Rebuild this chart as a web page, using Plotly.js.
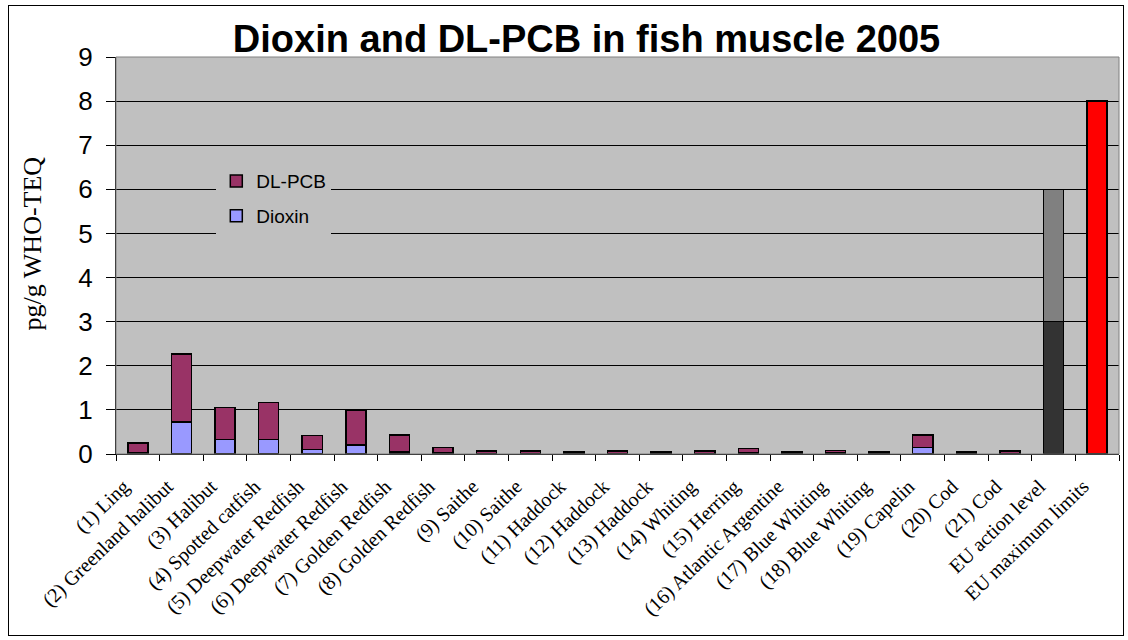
<!DOCTYPE html>
<html>
<head>
<meta charset="utf-8">
<script src="https://cdn.plot.ly/plotly-3.0.1.min.js"></script>
<style>
  html, body { margin: 0; padding: 0; background: #ffffff; }
  #wrap { position: relative; width: 1128px; height: 640px; }
  #chart { width: 1128px; height: 640px; }
  #frame { position: absolute; left: 8px; top: 5px; width: 1114px; height: 629px;
           border: 1px solid #000; pointer-events: none; }
</style>
</head>
<body>
<div id="wrap">
  <div id="chart"></div>
  <div id="frame"></div>
</div>
<script>
// Sampled species and the two EU reference levels
const categories = [
  "(1) Ling", "(2) Greenland halibut", "(3) Halibut", "(4) Spotted catfish",
  "(5) Deepwater Redfish", "(6) Deepwater Redfish", "(7) Golden Redfish",
  "(8) Golden Redfish", "(9) Saithe", "(10) Saithe", "(11) Haddock",
  "(12) Haddock", "(13) Haddock", "(14) Whiting", "(15) Herring",
  "(16) Atlantic Argentine", "(17) Blue Whiting", "(18) Blue Whiting",
  "(19) Capelin", "(20) Cod", "(21) Cod", "EU action level", "EU maximum limits"
];

// pg/g WHO-TEQ, lower stack segment
const dioxin = [
  0.03, 0.73, 0.33, 0.33, 0.10, 0.20, 0.05, 0.03, 0.01, 0.01, 0.01,
  0.01, 0.01, 0.01, 0.03, 0.01, 0.02, 0.01, 0.15, 0.01, 0.01, 3, 8
];

// pg/g WHO-TEQ, upper stack segment
const dlpcb = [
  0.22, 1.54, 0.72, 0.84, 0.32, 0.80, 0.38, 0.12, 0.06, 0.06, 0.03,
  0.06, 0.03, 0.06, 0.09, 0.03, 0.06, 0.03, 0.28, 0.03, 0.06, 3, 0
];

const yAxisTitle = "pg/g WHO-TEQ";

const dioxinColors = categories.map(c =>
  c === "EU action level" ? "#333333" : c === "EU maximum limits" ? "#FF0000" : "#9999FF");
const pcbColors = categories.map(c =>
  c === "EU action level" ? "#808080" : "#993366");

const outline = { color: "#000000", width: 1.5 };

const traces = [
  {
    type: "bar", name: "Dioxin", x: categories, y: dioxin,
    legendgroup: "dioxin", legendrank: 2,
    marker: { color: dioxinColors, line: outline },
    hoverinfo: "x+y+name"
  },
  {
    type: "bar", name: "DL-PCB", x: categories, y: dlpcb,
    legendgroup: "pcb", legendrank: 1,
    marker: { color: pcbColors, line: outline },
    hoverinfo: "x+y+name"
  }
];

const layout = {
  width: 1128, height: 640,
  margin: { l: 116, r: 9, t: 57, b: 186 },
  paper_bgcolor: "#ffffff",
  plot_bgcolor: "#C0C0C0",
  barmode: "stack",
  bargap: 0.54,
  showlegend: true,
  title: {
    text: "<b>Dioxin and DL-PCB in fish muscle 2005</b>",
    font: { family: "Liberation Sans, Arial, sans-serif", size: 38, color: "#000" },
    x: 0.52, xanchor: "center", y: 0.94, yanchor: "middle"
  },
  legend: {
    x: 0.1, y: 0.735, xanchor: "left", yanchor: "top",
    bgcolor: "#C0C0C0", borderwidth: 0,
    traceorder: "grouped", tracegroupgap: 7,
    font: { family: "Liberation Sans, Arial, sans-serif", size: 19, color: "#000" },
    itemwidth: 30
  },
  xaxis: {
    type: "category",
    tickangle: -44,
    tickfont: { family: "Liberation Serif, Times New Roman, serif", size: 20, color: "#000" },
    ticks: "outside", tickson: "boundaries", ticklen: 6, tickcolor: "#000",
    ticklabelstandoff: 12, ticklabelshift: -14,
    showline: true, linecolor: "#000", linewidth: 1,
    showgrid: false, zeroline: false, automargin: false,
    range: [-0.5, categories.length - 0.5]
  },
  yaxis: {
    range: [0, 9], dtick: 1,
    tickfont: { family: "Liberation Sans, Arial, sans-serif", size: 26, color: "#000" },
    ticks: "outside", ticklen: 9, tickcolor: "#000",
    ticklabelstandoff: 8,
    showline: true, linecolor: "#000", linewidth: 1,
    showgrid: true, gridcolor: "#000", gridwidth: 1,
    zeroline: false, automargin: false
  },
  annotations: [
    { text: yAxisTitle, textangle: -90, showarrow: false,
      xref: "paper", yref: "paper", x: -0.0835, y: 0.531,
      xanchor: "center", yanchor: "middle",
      font: { family: "Liberation Serif, Times New Roman, serif", size: 26, color: "#000" } }
  ],
  shapes: [
    { type: "rect", xref: "paper", yref: "paper", x0: 0, x1: 1, y0: 0, y1: 1,
      line: { color: "#808080", width: 1 }, fillcolor: "rgba(0,0,0,0)", layer: "above" }
  ]
};

Plotly.newPlot("chart", traces, layout, { displayModeBar: false, responsive: false });
</script>
</body>
</html>
